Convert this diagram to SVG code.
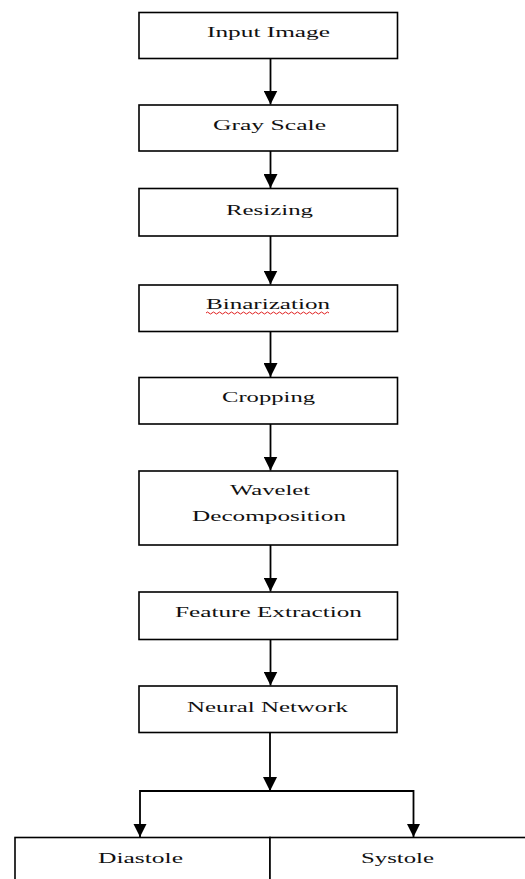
<svg xmlns="http://www.w3.org/2000/svg" width="525" height="879" viewBox="0 0 525 879">
<style>
.box{fill:#fff;stroke:#000;stroke-width:1.6}
.lbl{font-family:"Liberation Serif","Times New Roman",serif;font-size:15px;fill:#111}
.con{fill:none;stroke:#000;stroke-width:1.8}
</style>
<defs>
<marker id="ah" markerUnits="userSpaceOnUse" markerWidth="14" markerHeight="14" viewBox="0 0 14 14" refX="14" refY="7" orient="auto">
<path d="M0,0 L14,7 L0,14 Z" fill="#000"/>
</marker>
</defs>
<rect width="525" height="879" fill="#fff"/>
<g id="connectors">
<path class="con" d="M270.5,58.5 V104.5" marker-end="url(#ah)"/>
<path class="con" d="M270.5,151 V188" marker-end="url(#ah)"/>
<path class="con" d="M270.5,236 V284.5" marker-end="url(#ah)"/>
<path class="con" d="M270.5,331.5 V377" marker-end="url(#ah)"/>
<path class="con" d="M270.5,424 V470.5" marker-end="url(#ah)"/>
<path class="con" d="M270.5,545 V591.5" marker-end="url(#ah)"/>
<path class="con" d="M270.5,639.5 V685.5" marker-end="url(#ah)"/>
<path class="con" d="M270,732.5 V791" marker-end="url(#ah)"/>
<path class="con" d="M140,837 V791 H413.5 V837"/>
<path d="M133.5,824 L146.5,824 L140,837 Z" fill="#000"/>
<path d="M407,824 L420,824 L413.5,837 Z" fill="#000"/>
</g>
<g id="input-image">
<rect class="box" x="139" y="12.5" width="258.5" height="46"/>
<text class="lbl" x="207" y="37" textLength="123" lengthAdjust="spacingAndGlyphs">Input Image</text>
</g>
<g id="gray-scale">
<rect class="box" x="139" y="105" width="258.5" height="46"/>
<text class="lbl" x="213" y="130" textLength="113" lengthAdjust="spacingAndGlyphs">Gray Scale</text>
</g>
<g id="resizing">
<rect class="box" x="139" y="188.5" width="258.5" height="47.5"/>
<text class="lbl" x="226" y="215" textLength="87" lengthAdjust="spacingAndGlyphs">Resizing</text>
</g>
<g id="binarization">
<rect class="box" x="139" y="285" width="258.5" height="46.5"/>
<text class="lbl" x="206" y="309" textLength="124" lengthAdjust="spacingAndGlyphs">Binarization</text>
<path d="M206,313 q1.5,-2 3,0 t3,0 t3,0 t3,0 t3,0 t3,0 t3,0 t3,0 t3,0 t3,0 t3,0 t3,0 t3,0 t3,0 t3,0 t3,0 t3,0 t3,0 t3,0 t3,0 t3,0 t3,0 t3,0 t3,0 t3,0 t3,0 t3,0 t3,0 t3,0 t3,0 t3,0 t3,0 t3,0 t3,0 t3,0 t3,0 t3,0 t3,0 t3,0 t3,0 t3,0" fill="none" stroke="#e02020" stroke-width="1"/>
</g>
<g id="cropping">
<rect class="box" x="139" y="377.5" width="258.5" height="46.5"/>
<text class="lbl" x="222" y="402" textLength="93" lengthAdjust="spacingAndGlyphs">Cropping</text>
</g>
<g id="wavelet-decomposition">
<rect class="box" x="139" y="471" width="258.5" height="74"/>
<text class="lbl" x="230" y="495" textLength="80" lengthAdjust="spacingAndGlyphs">Wavelet</text>
<text class="lbl" x="192" y="521" textLength="154" lengthAdjust="spacingAndGlyphs">Decomposition</text>
</g>
<g id="feature-extraction">
<rect class="box" x="139" y="592" width="258.5" height="47.5"/>
<text class="lbl" x="175" y="617" textLength="187" lengthAdjust="spacingAndGlyphs">Feature Extraction</text>
</g>
<g id="neural-network">
<rect class="box" x="139" y="686" width="258" height="46.5"/>
<text class="lbl" x="187" y="711.5" textLength="161" lengthAdjust="spacingAndGlyphs">Neural Network</text>
</g>
<g id="diastole">
<rect class="box" x="15" y="837.5" width="255" height="60"/>
<text class="lbl" x="98" y="863" textLength="85" lengthAdjust="spacingAndGlyphs">Diastole</text>
</g>
<g id="systole">
<rect class="box" x="270" y="837.5" width="270" height="60"/>
<text class="lbl" x="361" y="863" textLength="73" lengthAdjust="spacingAndGlyphs">Systole</text>
</g>
</svg>
